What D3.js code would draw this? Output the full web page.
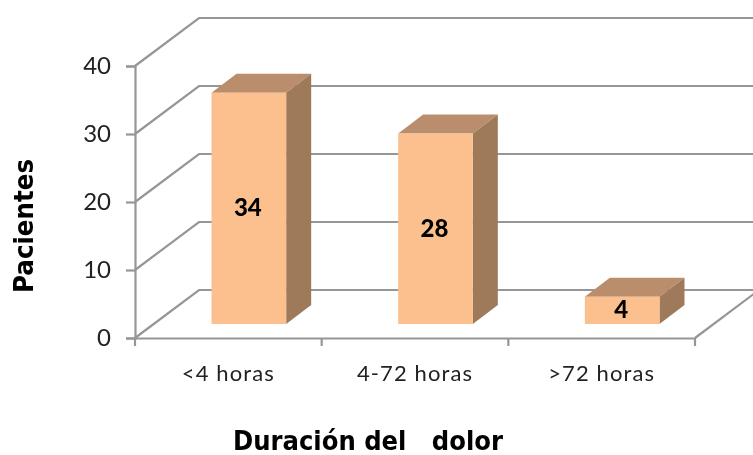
<!DOCTYPE html>
<html>
<head>
<meta charset="utf-8">
<script src="https://cdn.jsdelivr.net/npm/d3@7"></script>
<style>
  html, body { margin: 0; padding: 0; background: #fff; }
  svg { display: block; filter: blur(0.4px); }
  .tick text { fill: #222; }
</style>
</head>
<body>
<div id="chart"></div>
<script>
const categories = ["<4 horas", "4-72 horas", ">72 horas"];
const patients = [34, 28, 4];
const yTicks = [0, 10, 20, 30, 40];
const yTitle = "Pacientes";
const xTitle = "Duración del   dolor";

const width = 753, height = 455;
const axisColor = "#969696";
const lineWidth = 2.2;

// 3d offsets: wall depth, then where the bars sit inside that depth
const wall = {dx: 64, dy: -48};
const barFront = {dx: 20.5, dy: -14};
const barDepth = {dx: 25, dy: -19};

const svg = d3.select("#chart").append("svg")
  .attr("width", width)
  .attr("height", height);

const xScale = d3.scaleBand()
  .domain(categories)
  .range([135, 695])
  .paddingInner(0.6)
  .paddingOuter(0.3);

const yScale = d3.scaleLinear()
  .domain([0, 40])
  .range([338, 66]);

// gridlines on the side wall and the back wall
const grid = svg.append("g")
  .attr("fill", "none")
  .attr("stroke", axisColor)
  .attr("stroke-width", lineWidth);

yTicks.forEach((t) => {
  const y = yScale(t);
  grid.append("path")
    .attr("d", d3.line()([
      [xScale.range()[0], y],
      [xScale.range()[0] + wall.dx, y + wall.dy],
      [xScale.range()[1] + wall.dx, y + wall.dy]
    ]));
});

// floor edge on the right
grid.append("line")
  .attr("x1", xScale.range()[1])
  .attr("y1", yScale(0))
  .attr("x2", xScale.range()[1] + wall.dx)
  .attr("y2", yScale(0) + wall.dy);

// axes
const yAxis = d3.axisLeft(yScale).tickValues(yTicks).tickSize(9).tickPadding(15);
const gy = svg.append("g")
  .attr("transform", "translate(135,0)")
  .call(yAxis);
gy.selectAll("text").style("font", "24px Lato");

const xAxis = d3.axisBottom(xScale).tickSize(0).tickPadding(21);
const gx = svg.append("g")
  .attr("transform", "translate(0,338)")
  .call(xAxis);
gx.selectAll("text")
  .style("font", "22px Lato")
  .style("letter-spacing", "1.1px")
  .attr("dy", "1em");

// the band axis ticks sit on the centres, the picture has them on the band edges
const edges = d3.range(categories.length + 1).map((i) => xScale.range()[0] + i * xScale.step());
gx.selectAll("line.edge")
  .data(edges)
  .join("line")
  .attr("class", "edge")
  .attr("x1", (d) => d)
  .attr("x2", (d) => d)
  .attr("y1", 0)
  .attr("y2", 8)
  .attr("stroke", axisColor)
  .attr("stroke-width", lineWidth);

svg.selectAll(".domain").attr("stroke", axisColor).attr("stroke-width", lineWidth);
svg.selectAll(".tick line").attr("stroke", axisColor).attr("stroke-width", lineWidth);

// bars
const rows = categories.map((c, i) => ({category: c, value: patients[i]}));
const bars = svg.append("g").selectAll("g")
  .data(rows)
  .join("g");

const barBox = (d) => {
  const x0 = xScale(d.category) + barFront.dx;
  const x1 = x0 + xScale.bandwidth();
  const yTop = yScale(d.value) + barFront.dy;
  const yBottom = yScale(0) + barFront.dy;
  return {x0, x1, yTop, yBottom};
};

bars.append("path")
  .attr("fill", "#ba8e6c")
  .attr("d", (d) => {
    const b = barBox(d);
    return d3.line()([
      [b.x0, b.yTop],
      [b.x0 + barDepth.dx, b.yTop + barDepth.dy],
      [b.x1 + barDepth.dx, b.yTop + barDepth.dy],
      [b.x1, b.yTop]
    ]) + "Z";
  });

bars.append("path")
  .attr("fill", "#9e7a5b")
  .attr("d", (d) => {
    const b = barBox(d);
    return d3.line()([
      [b.x1, b.yTop],
      [b.x1 + barDepth.dx, b.yTop + barDepth.dy],
      [b.x1 + barDepth.dx, b.yBottom + barDepth.dy],
      [b.x1, b.yBottom]
    ]) + "Z";
  });

bars.append("rect")
  .attr("fill", "#fbc08e")
  .attr("x", (d) => barBox(d).x0)
  .attr("y", (d) => barBox(d).yTop)
  .attr("width", xScale.bandwidth())
  .attr("height", (d) => barBox(d).yBottom - barBox(d).yTop);

bars.append("text")
  .attr("x", (d) => barBox(d).x0 + xScale.bandwidth() / 2 - 1)
  .attr("y", (d) => (barBox(d).yTop + barBox(d).yBottom) / 2 + 8)
  .attr("text-anchor", "middle")
  .style("font", "900 24px Lato")
  .attr("fill", "#000")
  .text((d) => d.value);

// titles
svg.append("text")
  .attr("transform", "translate(33,226) rotate(-90)")
  .attr("text-anchor", "middle")
  .style("font", "bold 26px 'DejaVu Sans'")
  .attr("textLength", 134)
  .attr("lengthAdjust", "spacingAndGlyphs")
  .text(yTitle);

svg.append("text")
  .attr("x", 368)
  .attr("y", 450)
  .attr("text-anchor", "middle")
  .style("font", "bold 26px 'DejaVu Sans'")
  .style("white-space", "pre")
  .attr("textLength", 270)
  .attr("lengthAdjust", "spacingAndGlyphs")
  .text(xTitle);
</script>
</body>
</html>
